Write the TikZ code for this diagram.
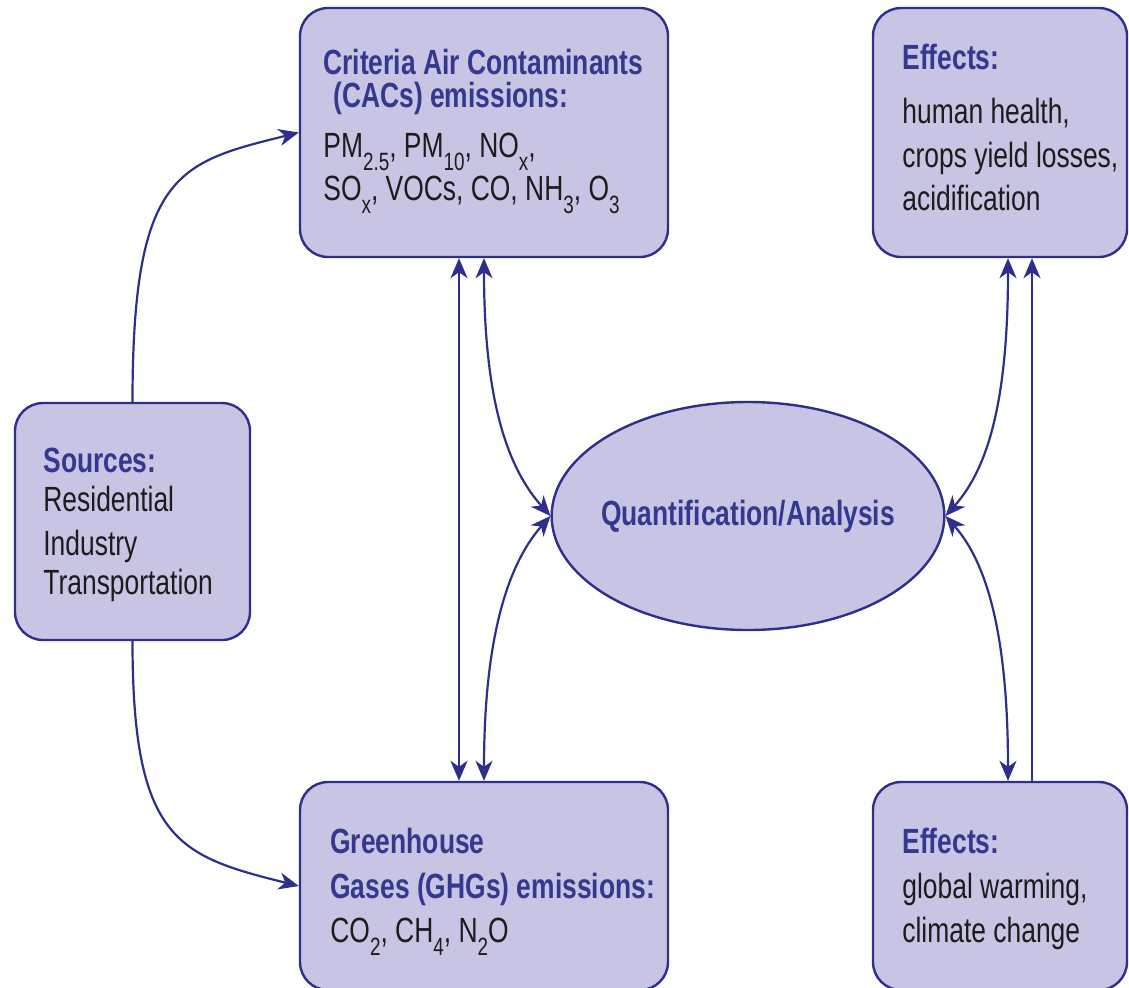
\documentclass[tikz,border=0pt]{standalone}
\usepackage{fontspec}
\setmainfont{Liberation Sans}[FakeStretch=0.755]
\definecolor{boxfill}{RGB}{199,197,227}
\definecolor{edgeblue}{RGB}{46,46,140}
\definecolor{titleblue}{RGB}{52,56,142}
\definecolor{bodytext}{RGB}{28,28,28}
\usetikzlibrary{shapes.geometric, arrows.meta, positioning}
\newcommand{\lowsub}[1]{\raisebox{-6.5pt}{\fontsize{12.5}{12.5}\selectfont #1}}
\newcommand{\boxhead}[1]{\textcolor{titleblue}{\bfseries #1}}

\begin{document}
\begin{tikzpicture}[x=0.5pt, y=-0.5pt,
  box/.style={draw=edgeblue, line width=1.2pt, fill=boxfill, rounded corners=14pt, inner sep=0pt},
  oval/.style={draw=edgeblue, line width=1.2pt, fill=boxfill, ellipse, inner xsep=-4pt, inner ysep=0pt,
               font=\fontsize{17.5}{21.5}\selectfont},
  txt/.style={anchor=north west, align=left, inner sep=0pt, text=bodytext,
              font=\fontsize{17.5}{21.5}\selectfont},
  link/.style={draw=edgeblue, line width=1.1pt},
  >={Stealth[length=10pt, width=8.5pt, inset=3pt]},
]
\useasboundingbox (0,0) rectangle (1129,987);

% Boxes
\node[box, minimum width=184pt, minimum height=124.5pt] (cac) at (484,132.5) {};
\node[box, minimum width=127pt, minimum height=124.5pt] (efftop) at (1000,132.5) {};
\node[box, minimum width=117.5pt, minimum height=118.5pt] (sources) at (132.5,521.5) {};
\node[box, minimum width=184pt, minimum height=104pt] (ghg) at (484,886) {};
\node[box, minimum width=127pt, minimum height=104pt] (effbot) at (1000,886) {};
\node[oval, minimum width=195pt, minimum height=114pt] (quant) at (748,516)
     {\boxhead{Quantification/Analysis}};

% Box texts
\node[txt] (cactext) at (323,48.5)
     {\boxhead{Criteria Air Contaminants}\\[-5pt]
      \boxhead{\hspace{5pt}(CACs) emissions:}\\[3.5pt]
      PM\lowsub{2.5}, PM\lowsub{10}, NO\lowsub{x},\\
      SO\lowsub{x}, VOCs, CO, NH\lowsub{3}, O\lowsub{3}};
\node[txt] (efftoptext) at (902,43.3)
     {\boxhead{Effects:}\\[5.5pt]
      human health,\\[0.5pt]
      crops yield losses,\\
      acidification};
\node[txt] (srctext) at (43,447.5)
     {\boxhead{Sources:}\\[-2pt]
      Residential\\[0.5pt]
      Industry\\[-2pt]
      Transportation};
\node[txt] (ghgtext) at (330,827.5)
     {\boxhead{Greenhouse}\\[1pt]
      \boxhead{Gases (GHGs) emissions:}\\[0.5pt]
      CO\lowsub{2}, CH\lowsub{4}, N\lowsub{2}O};
\node[txt] (effbottext) at (902,827.3)
     {\boxhead{Effects:}\\[1pt]
      global warming,\\[0.5pt]
      climate change};

% Sources to emissions
\draw[link, ->] (sources.north) .. controls +(0,-230) and +(-120,30) .. (cac.west);
\draw[link, ->] (sources.south) .. controls +(0,200) and +(-120,-30) .. (ghg.west);

% Emissions and analysis
\draw[link, <->] ([xshift=-12.5pt]cac.south) -- ([xshift=-12.5pt]ghg.north);
\draw[link, <->] (cac.south) .. controls +(0,150) and +(-40,-45) .. (quant.west);
\draw[link, <->] (ghg.north) .. controls +(0,-150) and +(-40,45) .. (quant.west);

% Analysis and effects
\draw[link, <->] ([xshift=4pt]efftop.south) .. controls +(0,150) and +(40,-45) .. (quant.east);
\draw[link, <->] ([xshift=4pt]effbot.north) .. controls +(0,-150) and +(40,45) .. (quant.east);
\draw[link, ->] ([xshift=16pt]effbot.north) -- ([xshift=16pt]efftop.south);
\end{tikzpicture}
\end{document}
